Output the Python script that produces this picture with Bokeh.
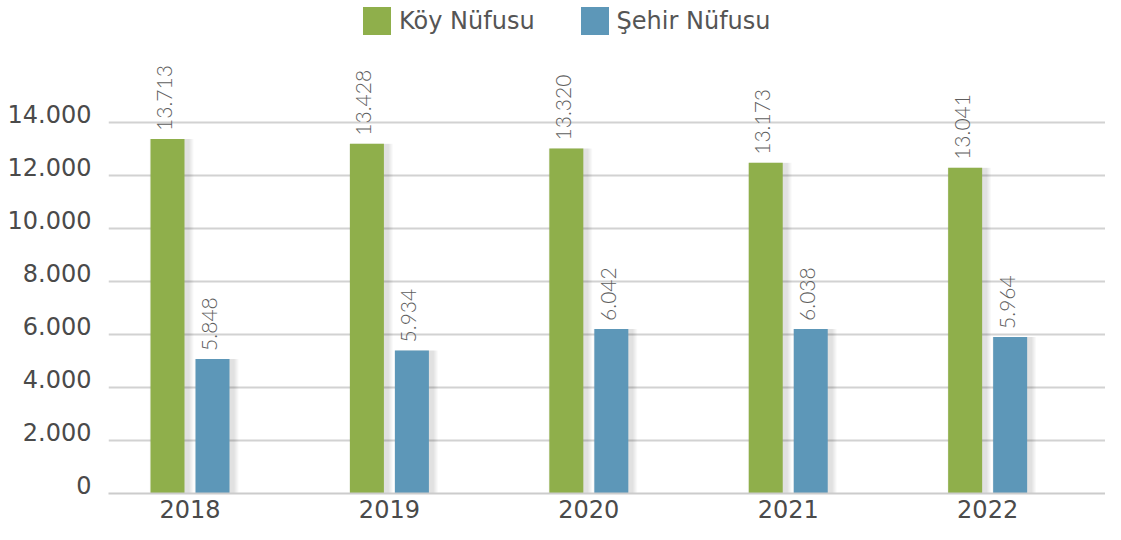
from bokeh.plotting import figure
from bokeh.models import (ColumnDataSource, Range1d, FixedTicker, Legend, LegendItem,
                          LabelSet, LinearAxis, Grid)
from bokeh.transform import dodge
from bokeh.core.properties import value
from bokeh.embed import file_html
from bokeh.resources import INLINE
import math

# ---- data ----
years = [2018, 2019, 2020, 2021, 2022]
koy_bar = [13380, 13200, 13020, 12480, 12290]      # bar heights as drawn
sehir_bar = [5080, 5400, 6210, 6210, 5910]
koy_values = [13713, 13428, 13320, 13173, 13041]    # printed value labels
sehir_values = [5848, 5934, 6042, 6038, 5964]
y_ticks = [0, 2000, 4000, 6000, 8000, 10000, 12000, 14000]
series_names = ["Köy Nüfusu", "Şehir Nüfusu"]

GREEN = "#8faf4b"
BLUE = "#5d97b8"
FONT = "DejaVu Sans"

def fmt(v):
    return f"{v:,}".replace(",", ".")

src = ColumnDataSource(dict(
    year=years,
    koy=koy_bar,
    sehir=sehir_bar,
    koy_lbl=[fmt(v) for v in koy_values],
    sehir_lbl=[fmt(v) for v in sehir_values],
))

Y_END = 18604
p = figure(width=1105, height=524, output_backend="svg", toolbar_location=None,
           x_range=Range1d(2017.5913, 2022.591), y_range=Range1d(0, Y_END),
           y_axis_location=None,
           min_border_left=108, min_border_right=0, min_border_top=0, min_border_bottom=31)
p.outline_line_color = None
p.background_fill_color = "white"
p.border_fill_color = "white"

# y tick labels sit just above their grid line (baseline on the line)
lbl_shift = 330
p.extra_y_ranges = {"lbl": Range1d(-lbl_shift, Y_END - lbl_shift)}

px = 1 / 199.4          # one pixel in x data units
off = 22.5 * px
bw = 34 * px

# soft shadows
for k in range(1, 6):
    for col, o in (("koy", -off), ("sehir", off)):
        p.vbar(x=dodge("year", o + 4 * px, range=p.x_range), top=col, bottom=-400,
               width=bw + 2 * k * px, source=src, color="black", alpha=0.022,
               line_color=None)

r1 = p.vbar(x=dodge("year", -off, range=p.x_range), top="koy", width=bw, source=src,
            color=GREEN, line_color=None)
r2 = p.vbar(x=dodge("year", off, range=p.x_range), top="sehir", width=bw, source=src,
            color=BLUE, line_color=None)

for col, lbl, o in (("koy", "koy_lbl", -off), ("sehir", "sehir_lbl", off)):
    ls = LabelSet(x=dodge("year", o, range=p.x_range), y=col, text=lbl, source=src,
                  angle=math.pi / 2, text_align="left", text_baseline="middle",
                  x_offset=-3, y_offset=8, text_font=value("Lato Light, Lato"),
                  text_font_size="21px", text_color="#5e5e5e")
    p.add_layout(ls)

# x axis
p.xaxis.ticker = FixedTicker(ticks=years)
p.xaxis.major_label_overrides = {y: str(y) for y in years}
p.xaxis.major_tick_line_color = None
p.xaxis.major_tick_out = 0
p.xaxis.major_tick_in = 0
p.xaxis.minor_tick_line_color = None
p.xaxis.axis_line_color = "#cccccc"
p.xaxis.axis_line_width = 2
p.xaxis.major_label_text_font = FONT
p.xaxis.major_label_text_font_size = "24px"
p.xaxis.major_label_text_color = "#4a4a4a"
p.xaxis.major_label_standoff = 6
p.xgrid.grid_line_color = None

# y axis (labels only)
yax = LinearAxis(y_range_name="lbl", ticker=FixedTicker(ticks=y_ticks))
yax.major_label_overrides = {t: fmt(t) for t in y_ticks}
yax.major_tick_line_color = None
yax.major_tick_out = 0
yax.major_tick_in = 0
yax.minor_tick_line_color = None
yax.axis_line_color = None
yax.major_label_text_font = FONT
yax.major_label_text_font_size = "24px"
yax.major_label_text_color = "#4a4a4a"
yax.major_label_standoff = 17
p.add_layout(yax, "left")

for g in p.ygrid:
    g.grid_line_color = None
p.add_layout(Grid(dimension=1, ticker=FixedTicker(ticks=y_ticks),
                  grid_line_color="#d2d2d2", grid_line_width=2))

legend = Legend(items=[LegendItem(label=series_names[0], renderers=[r1]),
                       LegendItem(label=series_names[1], renderers=[r2])],
                orientation="horizontal", location=(251, 455),
                glyph_width=35, glyph_height=35, label_standoff=5, spacing=42,
                padding=0, margin=0, border_line_color=None, background_fill_alpha=0,
                label_text_font=FONT, label_text_font_size="24px", label_text_color="#555555")
p.add_layout(legend)

open("out.html", "w").write(file_html(p, INLINE))
